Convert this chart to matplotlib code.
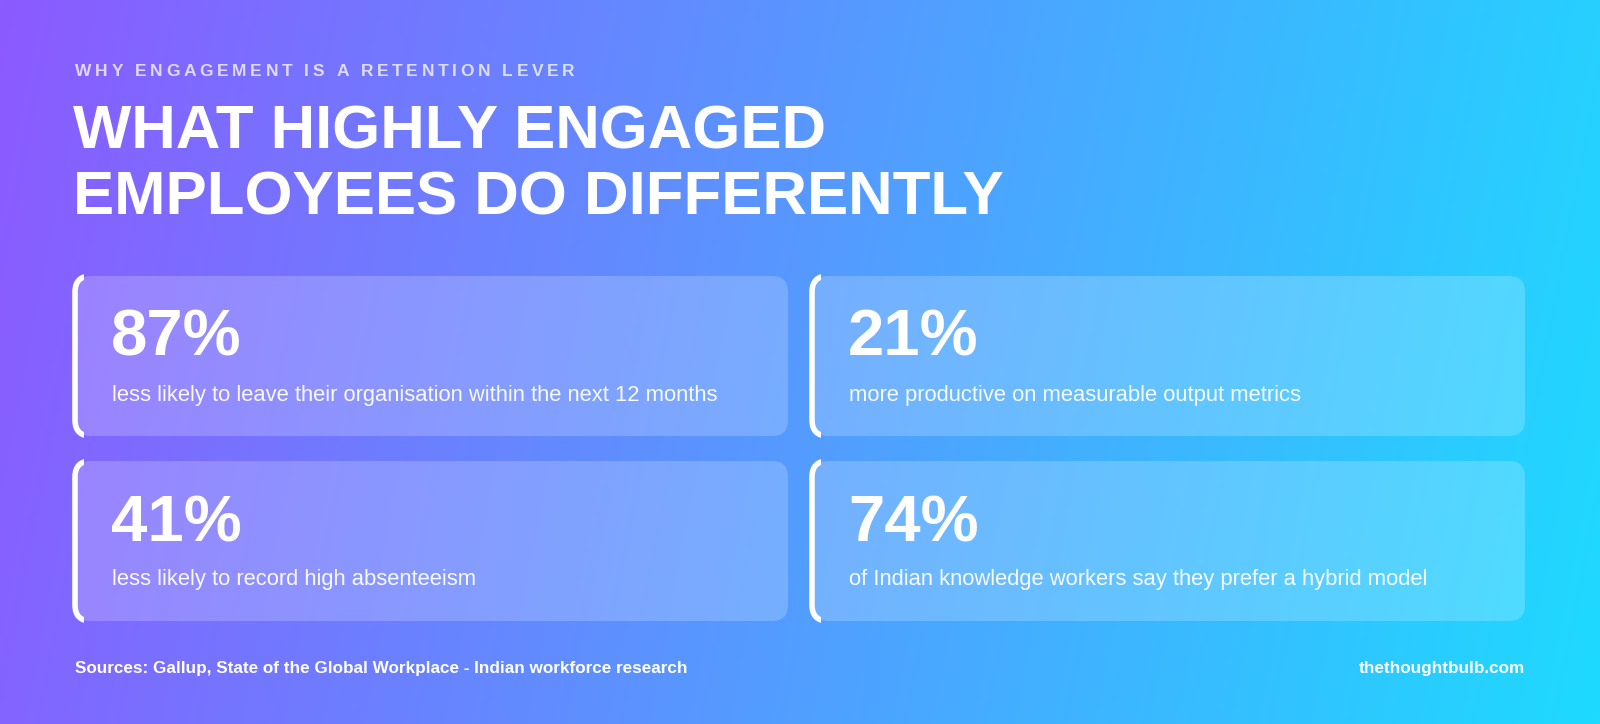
import numpy as np
import matplotlib
matplotlib.use("Agg")
import matplotlib.pyplot as plt
from matplotlib.patches import FancyBboxPatch, Rectangle

kicker = "WHY ENGAGEMENT IS A RETENTION LEVER"
title_lines = ["WHAT HIGHLY ENGAGED", "EMPLOYEES DO DIFFERENTLY"]
stat_values = ["87%", "21%", "41%", "74%"]
stat_labels = [
    "less likely to leave their organisation within the next 12 months",
    "more productive on measurable output metrics",
    "less likely to record high absenteeism",
    "of Indian knowledge workers say they prefer a hybrid model",
]
source = "Sources: Gallup, State of the Global Workplace - Indian workforce research"
site = "thethoughtbulb.com"

W, H = 1600, 724
fig = plt.figure(figsize=(16, 7.24), dpi=100)
ax = fig.add_axes([0, 0, 1, 1])
ax.set_xlim(0, W)
ax.set_ylim(H, 0)
ax.axis("off")

# background gradient, purple -> cyan
left = np.array([140, 90, 255]) / 255
right = np.array([30, 218, 255]) / 255
xs = np.linspace(0, 1, 400)
ys = np.linspace(0, 1, 100)
X, Y = np.meshgrid(xs, ys)
t = np.clip(X * 0.92 + Y * 0.08, 0, 1)[..., None]
img = left * (1 - t) + right * t
ax.imshow(img, extent=[0, W, H, 0], aspect="auto", zorder=0)

font = "Liberation Sans"

# kicker with letter spacing
fig.canvas.draw()
r = fig.canvas.get_renderer()
x = 75
for ch in kicker:
    tx = ax.text(x, 71, ch, color=(1, 1, 1, 0.75), fontsize=12.5, fontweight="bold",
                 family=font, va="center", ha="left")
    w = tx.get_window_extent(r).width if ch != " " else 4.5
    x += w + 3.7

for i, line in enumerate(title_lines):
    ax.text(73, 133 + i * 66, line, color="white", fontsize=44.5, fontweight="bold",
            family=font, va="center", ha="left")

cards = [(75, 276), (812, 276), (75, 461), (812, 461)]
cw, ch_ = 713, 160
for (cx, cy), val, lab in zip(cards, stat_values, stat_labels):
    card = FancyBboxPatch((cx, cy), cw, ch_, boxstyle="round,pad=0,rounding_size=16",
                          facecolor=(1, 1, 1, 0.2), edgecolor="none", zorder=2)
    ax.add_patch(card)
    edge = FancyBboxPatch((cx, cy), cw, ch_, boxstyle="round,pad=0,rounding_size=16",
                          facecolor="none", edgecolor="white", linewidth=4, zorder=3)
    ax.add_patch(edge)
    clip = Rectangle((cx - 5, cy - 5), 14, ch_ + 10, transform=ax.transData)
    edge.set_clip_path(clip)
    ax.text(cx + 36, cy + 63, val, color="white", fontsize=47, fontweight="bold",
            family=font, va="center", ha="left", zorder=4)
    ax.text(cx + 37, cy + 119, lab, color=(1, 1, 1, 0.95), fontsize=15.8,
            family=font, va="center", ha="left", zorder=4)

ax.text(75, 668, source, color="white", fontsize=12.3, fontweight="bold",
        family=font, va="center", ha="left")
ax.text(1525, 668, site, color="white", fontsize=12.3, fontweight="bold",
        family=font, va="center", ha="right")

fig.savefig("out.png", dpi=100)
